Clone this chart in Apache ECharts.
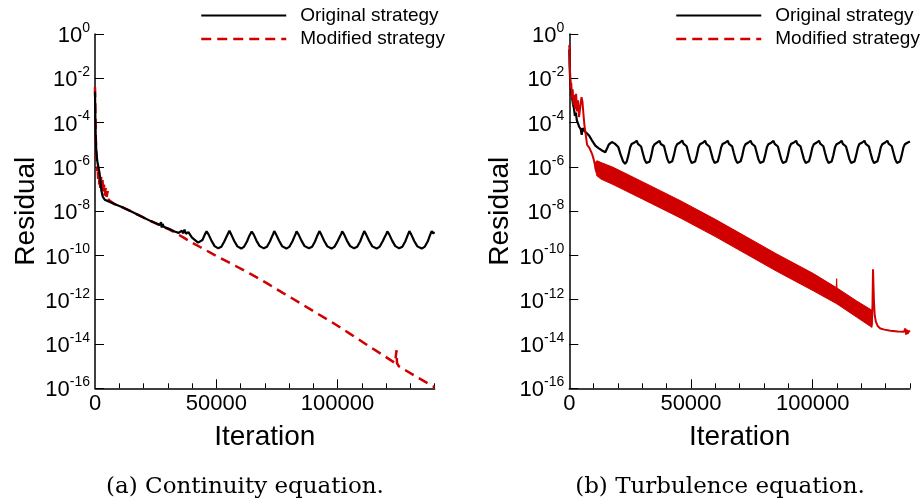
<!DOCTYPE html>
<html><head><meta charset="utf-8">
<script src="https://cdn.jsdelivr.net/npm/echarts@6/dist/echarts.min.js"></script>
<style>html,body{margin:0;padding:0;background:#fff}#c{width:921px;height:504px}</style>
</head><body><div id="c"></div><script>
// ---------- DATA (iteration, log10 residual) ----------
const xLabelVals = [0, 50000, 100000];
const xMajorTicks = [50000, 100000];
const xMinorTicks = [10000, 20000, 30000, 40000, 60000, 70000, 80000, 90000, 110000, 120000, 130000, 140000];

// (a) Continuity equation - Original strategy
const contOrigIter = [0,150,300,500,800,1100,1500,1900,2300,2700,3200,4000,5400,8000,10800,15000,19100,23000,26800,27200,27500,27900,28300,30500,32800,34500,35800,36300,36900,37500,38500,40000,42500,44300,45300,
46000,46800,48000,49300,50800,52100,53300,54300,54900,
55400,56200,57400,58700,60300,61500,62700,63600,64100,
64600,65400,66600,67900,69600,70900,72100,73000,73500,
73900,74700,75900,77200,78900,80200,81400,82300,82700,
83100,83900,85100,86400,88200,89500,90700,91600,92100,
92500,93300,94500,95800,97500,98800,100000,101000,101500,
101900,102700,103900,105200,106800,108100,109300,110200,110600,
111000,111800,113000,114300,116100,117400,118600,119600,120100,
120500,121300,122500,123800,125400,126700,127900,128800,129200,
129600,130400,131600,132900,134700,136000,137200,138000,138400,
138800,139400,140000];
const contOrigLog = [-2.6,-3.8,-4.6,-5.2,-5.6,-5.85,-6.05,-6.3,-6.75,-7.1,-7.35,-7.48,-7.55,-7.68,-7.8,-8.02,-8.24,-8.45,-8.63,-8.5,-8.74,-8.58,-8.7,-8.8,-8.92,-8.98,-8.88,-9.0,-8.84,-9.02,-8.95,-9.2,-9.42,-9.3,-9.05,
-8.91,-9.05,-9.33,-9.58,-9.68,-9.61,-9.37,-9.13,-9.04,
-8.89,-9.06,-9.35,-9.59,-9.69,-9.60,-9.36,-9.12,-9.03,
-8.92,-9.05,-9.34,-9.58,-9.68,-9.61,-9.37,-9.14,-9.02,
-8.90,-9.06,-9.34,-9.59,-9.69,-9.60,-9.36,-9.13,-9.03,
-8.91,-9.05,-9.33,-9.58,-9.68,-9.61,-9.37,-9.12,-9.04,
-8.90,-9.06,-9.35,-9.59,-9.69,-9.60,-9.36,-9.13,-9.03,
-8.91,-9.05,-9.34,-9.58,-9.68,-9.61,-9.37,-9.12,-9.04,
-8.90,-9.06,-9.34,-9.59,-9.69,-9.60,-9.36,-9.13,-9.03,
-8.91,-9.05,-9.33,-9.58,-9.68,-9.61,-9.37,-9.12,-9.03,
-8.90,-9.06,-9.35,-9.59,-9.69,-9.60,-9.36,-9.12,-9.03,
-8.90,-9.0,-8.95];

// (a) Continuity equation - Modified strategy
const contModIter = [0,150,300,500,700,900,1100,1300,1500,1700,1900,2200,2500,2800,3100,3400,3700,4000,4400,4800,5200,5700,6200,8000,10800,15000,19100,23000,27000,30500,33000,36900,40000,43300,50000,57000,63900,70800,77600,84500,91300,98200,105000,112000,118000,123700,124200,124300,124500,125200,126000,132800,139500,140000];
const contModLog = [-2.4,-3.6,-4.6,-5.3,-5.8,-6.2,-5.95,-6.55,-6.1,-6.8,-6.3,-7.0,-6.45,-7.1,-6.6,-7.2,-6.8,-7.3,-6.95,-7.35,-7.1,-7.5,-7.55,-7.68,-7.8,-8.02,-8.24,-8.45,-8.65,-8.82,-8.97,-9.22,-9.42,-9.62,-10.02,-10.42,-10.82,-11.25,-11.7,-12.15,-12.6,-13.05,-13.53,-14.03,-14.45,-14.86,-14.9,-14.28,-14.86,-15.0,-15.06,-15.5,-15.92,-15.96];

// (b) Turbulence equation - Original strategy
const turbOrigIter = [0,150,400,700,1100,1500,1900,2300,2700,3100,3600,4100,4700,5100,5500,6200,7200,8200,9300,10700,12000,13400,14800,15600,16300,16900,17500,18100,18700,19300,20100,21100,22100,
22900,23600,24300,25000,25600,26200,26800,27300,27700,28200,28800,29500,30200,30900,31600,
32300,33000,33700,34400,35000,35600,36200,36700,37100,37600,38200,38900,39600,40300,41000,
41600,42300,43000,43700,44300,44900,45500,46000,46400,46900,47500,48200,48900,49600,50300,
51000,51700,52400,53100,53700,54300,54900,55400,55800,56300,56900,57600,58300,59000,59700,
60300,61000,61700,62400,63000,63600,64200,64700,65100,65600,66200,66900,67600,68300,69000,
69700,70400,71100,71800,72400,73000,73600,74100,74500,75000,75600,76300,77000,77700,78400,
79100,79800,80500,81200,81800,82400,83000,83500,83900,84400,85000,85700,86400,87100,87800,
88400,89100,89800,90500,91100,91700,92300,92800,93200,93700,94300,95000,95700,96400,97100,
97800,98500,99200,99900,100500,101100,101700,102200,102600,103100,103700,104400,105100,105800,106500,
107100,107800,108500,109200,109800,110400,111000,111500,111900,112400,113000,113700,114400,115100,115800,
116500,117200,117900,118600,119200,119800,120400,120900,121300,121800,122400,123100,123800,124500,125200,
125900,126600,127300,128000,128600,129200,129800,130300,130700,131200,131800,132500,133200,133900,134600,
135200,135900,136600,137300,137900,138500,139100,139600,140000];
const turbOrigLog = [-0.7,-1.5,-2.2,-2.55,-2.85,-3.15,-3.35,-3.7,-3.55,-3.9,-4.05,-4.2,-4.3,-4.55,-4.25,-4.38,-4.48,-4.6,-4.8,-5.04,-5.15,-5.26,-5.34,-5.15,-4.98,-5.05,-4.88,-4.8,-4.95,-4.9,-5.1,-5.45,-5.75,
-5.86,-5.76,-5.47,-5.12,-4.97,-5.06,-4.9,-4.98,-4.82,-4.96,-4.9,-5.08,-5.37,-5.66,-5.82,
-5.87,-5.77,-5.48,-5.1,-4.99,-5.07,-4.89,-4.96,-4.83,-4.97,-4.91,-5.06,-5.36,-5.65,-5.82,
-5.86,-5.75,-5.47,-5.12,-4.98,-5.05,-4.9,-4.97,-4.81,-4.95,-4.9,-5.07,-5.37,-5.66,-5.83,
-5.87,-5.76,-5.48,-5.11,-4.98,-5.06,-4.91,-4.97,-4.82,-4.96,-4.89,-5.08,-5.36,-5.65,-5.82,
-5.86,-5.76,-5.47,-5.12,-4.97,-5.06,-4.9,-4.98,-4.82,-4.96,-4.9,-5.07,-5.37,-5.66,-5.82,
-5.87,-5.75,-5.48,-5.12,-4.98,-5.05,-4.9,-4.97,-4.82,-4.95,-4.9,-5.07,-5.36,-5.65,-5.82,
-5.86,-5.76,-5.47,-5.11,-4.98,-5.06,-4.91,-4.97,-4.83,-4.96,-4.9,-5.08,-5.37,-5.66,-5.83,
-5.87,-5.76,-5.48,-5.12,-4.97,-5.06,-4.9,-4.98,-4.82,-4.96,-4.9,-5.07,-5.36,-5.65,-5.82,
-5.86,-5.75,-5.47,-5.12,-4.98,-5.05,-4.9,-4.97,-4.82,-4.95,-4.9,-5.07,-5.37,-5.66,-5.82,
-5.87,-5.76,-5.48,-5.11,-4.98,-5.06,-4.91,-4.97,-4.82,-4.96,-4.9,-5.08,-5.36,-5.65,-5.82,
-5.86,-5.76,-5.47,-5.12,-4.97,-5.06,-4.9,-4.98,-4.82,-4.96,-4.9,-5.07,-5.37,-5.66,-5.83,
-5.87,-5.75,-5.48,-5.12,-4.98,-5.05,-4.9,-4.97,-4.82,-4.95,-4.9,-5.07,-5.36,-5.65,-5.82,
-5.86,-5.76,-5.47,-5.12,-4.98,-5.06,-4.9,-4.97,-4.85];

// (b) Turbulence equation - Modified strategy: early transient, oscillation band, tail
const turbModIter = [0,200,400,600,800,1100,1400,1700,2000,2400,2800,3200,3600,4000,4500,5000,5400,5800,6200,6700,7300,8300,9300,10000,10600,11000];
const turbModLog = [-0.5,-1.3,-2.0,-2.45,-2.2,-2.9,-2.5,-3.2,-2.75,-3.4,-2.7,-3.5,-3.0,-3.75,-3.3,-2.85,-3.05,-3.6,-4.1,-4.5,-5.0,-5.15,-5.4,-5.65,-5.95,-6.2];
const bandIter = [10600,11300,13000,18000,30000,45500,60000,72900,85000,100300,109700,109850,110000,118000,124400];
const bandTop  = [-5.8,-5.72,-5.8,-6.02,-6.67,-7.52,-8.37,-9.17,-9.92,-10.82,-11.45,-11.05,-11.47,-12.05,-12.48];
const bandBot  = [-6.05,-6.4,-6.55,-6.8,-7.45,-8.3,-9.15,-9.95,-10.7,-11.6,-12.17,-12.18,-12.19,-12.78,-13.25];
const turbTailIter = [124300,124600,124800,124900,125000,125200,125500,126000,126800,127800,129500,132000,135000,137500,138100,138400,138700,139000,139400,140000];
const turbTailLog  = [-13.15,-12.2,-10.62,-11.0,-11.4,-12.1,-12.7,-13.0,-13.2,-13.3,-13.35,-13.4,-13.43,-13.45,-13.3,-13.58,-13.35,-13.55,-13.4,-13.45];

// ---------- CHART ----------
const SANS = 'Liberation Sans';
const RED = '#d10000';
const zip = (xs, ys) => xs.map((x, i) => [x, ys[i]]);

function yAxisFor(g) {
  return {
    type: 'value', gridIndex: g, min: -16, max: 0, interval: 2,
    name: 'Residual', nameLocation: 'middle', nameGap: 55, nameRotate: 90,
    nameTextStyle: {fontFamily: SANS, fontSize: 28, color: '#000'},
    axisLine: {show: true, onZero: false, lineStyle: {color: '#000', width: 1.5}},
    axisTick: {show: true, inside: true, length: 9, lineStyle: {color: '#000', width: 1}},
    splitLine: {show: false},
    axisLabel: {
      margin: 5,
      formatter: v => '{b|10}{e|' + v + '}',
      rich: {
        b: {fontFamily: SANS, fontSize: 22, color: '#000', lineHeight: 26, verticalAlign: 'bottom'},
        e: {fontFamily: SANS, fontSize: 14, color: '#000', lineHeight: 26, verticalAlign: 'top'}
      }
    }
  };
}
function xAxisMain(g) {
  return {
    type: 'value', gridIndex: g, min: 0, max: 140000, position: 'bottom',
    name: 'Iteration', nameLocation: 'middle', nameGap: 35,
    nameTextStyle: {fontFamily: SANS, fontSize: 28, color: '#000'},
    axisLine: {show: true, onZero: false, lineStyle: {color: '#000', width: 1.5}},
    axisTick: {show: true, inside: true, length: 5, customValues: xMinorTicks, lineStyle: {color: '#000', width: 1}},
    axisLabel: {customValues: xLabelVals, formatter: v => String(v), fontFamily: SANS, fontSize: 22, color: '#000', margin: 5},
    splitLine: {show: false}
  };
}
function xAxisMajor(g) {
  return {
    type: 'value', gridIndex: g, min: 0, max: 140000, position: 'bottom',
    axisLine: {show: false, onZero: false},
    axisTick: {show: true, inside: true, length: 9, customValues: xMajorTicks, lineStyle: {color: '#000', width: 1}},
    axisLabel: {show: false},
    splitLine: {show: false}
  };
}
function legendFor(left) {
  return {
    left: left, top: 6, padding: 0, orient: 'vertical', selectedMode: false,
    itemWidth: 85, itemHeight: 14, itemGap: 4.5,
    textStyle: {fontFamily: SANS, fontSize: 19, color: '#000', padding: [0, 0, 0, 9]},
    data: [
      {name: 'Original strategy', itemStyle: {opacity: 0}, lineStyle: {color: '#000', width: 2, type: 'solid'}},
      {name: 'Modified strategy', itemStyle: {opacity: 0}, lineStyle: {color: RED, width: 2.5, type: [10, 6]}}
    ]
  };
}

const option = {
  animation: false,
  backgroundColor: '#fff',
  grid: [
    {left: 95, top: 34, width: 339.6, height: 354.3},
    {left: 569.3, top: 34, width: 340.7, height: 354.3}
  ],
  xAxis: [xAxisMain(0), xAxisMajor(0), xAxisMain(1), xAxisMajor(1)],
  yAxis: [yAxisFor(0), yAxisFor(1)],
  legend: [legendFor(200), legendFor(675)],
  graphic: [
    {type: 'text', x: 245, y: 487, style: {text: '(a) Continuity equation.', fontFamily: 'DejaVu Serif', fontSize: 23, fill: '#000', align: 'center', verticalAlign: 'middle', textAlign: 'center', textVerticalAlign: 'middle'}},
    {type: 'text', x: 720, y: 487, style: {text: '(b) Turbulence equation.', fontFamily: 'DejaVu Serif', fontSize: 23, fill: '#000', align: 'center', verticalAlign: 'middle', textAlign: 'center', textVerticalAlign: 'middle'}}
  ],
  series: [
    {type: 'line', name: 'Modified strategy', xAxisIndex: 0, yAxisIndex: 0, data: zip(contModIter, contModLog),
     symbol: 'none', z: 2, lineStyle: {color: RED, width: 2.5, type: [10, 6]}, itemStyle: {color: RED}},
    {type: 'line', name: 'Original strategy', xAxisIndex: 0, yAxisIndex: 0, data: zip(contOrigIter, contOrigLog),
     symbol: 'none', z: 3, lineStyle: {color: '#000', width: 2.2}, itemStyle: {color: '#000'}},
    {type: 'line', name: 'Original strategy', xAxisIndex: 2, yAxisIndex: 1, data: zip(turbOrigIter, turbOrigLog),
     symbol: 'none', z: 2, lineStyle: {color: '#000', width: 2.2}, itemStyle: {color: '#000'}},
    {type: 'line', name: 'Modified strategy', xAxisIndex: 2, yAxisIndex: 1, data: zip(turbModIter, turbModLog),
     symbol: 'none', z: 3, lineStyle: {color: RED, width: 2}, itemStyle: {color: RED}},
    {type: 'custom', xAxisIndex: 2, yAxisIndex: 1, z: 3, silent: true, clip: true,
     data: bandIter.map((x, i) => [x, bandTop[i], bandBot[i]]),
     encode: {x: 0, y: [1, 2]},
     renderItem: function (params, api) {
       if (params.dataIndex !== 0) return;
       const pts = [];
       for (let i = 0; i < bandIter.length; i++) pts.push(api.coord([bandIter[i], bandTop[i]]));
       for (let i = bandIter.length - 1; i >= 0; i--) pts.push(api.coord([bandIter[i], bandBot[i]]));
       return {type: 'polygon', shape: {points: pts}, style: {fill: RED, stroke: RED, lineWidth: 1}};
     }},
    {type: 'line', name: 'Modified strategy', xAxisIndex: 2, yAxisIndex: 1, data: zip(turbTailIter, turbTailLog),
     symbol: 'none', z: 3, lineStyle: {color: RED, width: 2}, itemStyle: {color: RED}}
  ]
};
const chart = echarts.init(document.getElementById('c'), null, {renderer: 'canvas'});
chart.setOption(option);
</script></body></html>
